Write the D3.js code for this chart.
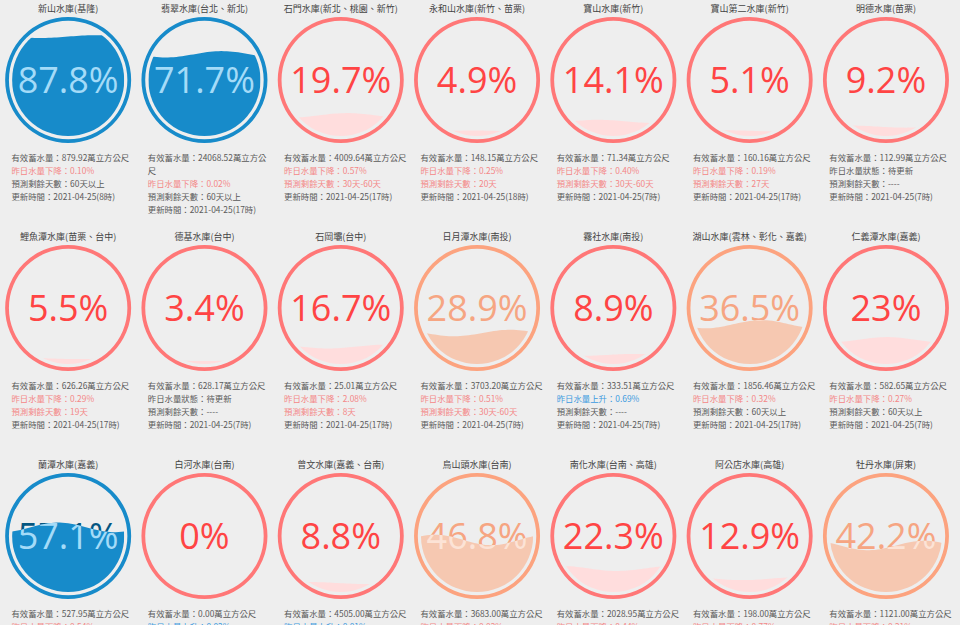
<!DOCTYPE html>
<html>
<head>
<meta charset="utf-8" />
<script src="https://d3js.org/d3.v7.min.js"></script>
<style>
  body { margin: 0; background: #eeeeee; }
  svg { display: block; }
  .title { font-family: "Noto Sans CJK TC", sans-serif; font-size: 9px; fill: #444; }
  .info { font-family: "Noto Sans CJK TC", sans-serif; font-size: 8.4px; }
  .pct { font-family: "Open Sans", sans-serif; }
</style>
</head>
<body>
<svg id="viz"></svg>
<script>
// reservoirs, row by row (7 per row)
var names = [
  "新山水庫(基隆)", "翡翠水庫(台北、新北)", "石門水庫(新北、桃園、新竹)", "永和山水庫(新竹、苗栗)",
  "寶山水庫(新竹)", "寶山第二水庫(新竹)", "明德水庫(苗栗)",
  "鯉魚潭水庫(苗栗、台中)", "德基水庫(台中)", "石岡壩(台中)", "日月潭水庫(南投)",
  "霧社水庫(南投)", "湖山水庫(雲林、彰化、嘉義)", "仁義潭水庫(嘉義)",
  "蘭潭水庫(嘉義)", "白河水庫(台南)", "曾文水庫(嘉義、台南)", "烏山頭水庫(台南)",
  "南化水庫(台南、高雄)", "阿公店水庫(高雄)", "牡丹水庫(屏東)"
];
var percents = [87.8, 71.7, 19.7, 4.9, 14.1, 5.1, 9.2,
                5.5, 3.4, 16.7, 28.9, 8.9, 36.5, 23,
                57.1, 0, 8.8, 46.8, 22.3, 12.9, 42.2];
var volumes = ["879.92", "24068.52", "4009.64", "148.15", "71.34", "160.16", "112.99",
               "626.26", "628.17", "25.01", "3703.20", "333.51", "1856.46", "582.65",
               "527.95", "0.00", "4505.00", "3683.00", "2028.95", "198.00", "1121.00"];
var changeDir = ["下降", "下降", "下降", "下降", "下降", "下降", "待更新",
                 "下降", "待更新", "下降", "下降", "上升", "下降", "下降",
                 "下降", "上升", "上升", "下降", "下降", "下降", "下降"];
var changeVal = ["0.10", "0.02", "0.57", "0.25", "0.40", "0.19", "",
                 "0.29", "", "2.08", "0.51", "0.69", "0.32", "0.27",
                 "0.54", "0.02", "0.01", "0.02", "0.44", "0.77", "0.21"];
var daysLeft = ["60天以上", "60天以上", "30天-60天", "20天", "30天-60天", "27天", "----",
                "19天", "----", "8天", "30天-60天", "----", "60天以上", "60天以上",
                "60天以上", "----", "----", "60天以上", "60天以上", "30天-60天", "60天以上"];
var updateHour = [8, 17, 17, 18, 7, 17, 7,
                  17, 7, 17, 7, 7, 17, 7,
                  7, 7, 7, 7, 7, 7, 7];
var updateDate = "2021-04-25";

var width = 960, height = 625;
var cols = 7, colW = 136.3, rowH = 228, top0 = 80;
var radius = 63;

var themes = {
  blue:   { circle: "#178BCA", wave: "#178BCA", text: "#045681", waveText: "#A4DBF8" },
  orange: { circle: "#FCA37F", wave: "#F6C8B1", text: "#F6A582", waveText: "#FCE3D6" },
  red:    { circle: "#FF7777", wave: "#FFDDDD", text: "#FF4444", waveText: "#FFAAAA" }
};
function theme(p) {
  if (p >= 50) return themes.blue;
  if (p >= 25) return themes.orange;
  return themes.red;
}

var svg = d3.select("#viz")
    .attr("width", width)
    .attr("height", height);
var defs = svg.append("defs");

function drawGauge(g, i, p) {
  var c = theme(p);
  var thick = radius * 0.06;
  var gap = radius * 0.05;
  var fillR = radius - thick - gap;
  var fontSize = 36;

  var waveHeightScale = d3.scaleLinear().domain([0, 50, 100]).range([0, 0.1, 0]);
  var amp = fillR * waveHeightScale(p);
  var rise = d3.scaleLinear().domain([0, 1]).range([fillR + amp, -fillR - amp]);
  var level = rise(p / 100);

  var ring = d3.arc().innerRadius(radius - thick).outerRadius(radius)
      .startAngle(0).endAngle(2 * Math.PI);
  g.append("path").attr("d", ring()).attr("fill", c.circle);

  g.append("text").attr("class", "pct")
      .attr("text-anchor", "middle")
      .attr("y", fontSize * 0.36)
      .attr("font-size", fontSize + "px")
      .attr("fill", c.text)
      .text(p + "%");

  var x = d3.scaleLinear().domain([0, 1]).range([-fillR, fillR]);
  var pts = d3.range(0, 1.0001, 0.025);
  var area = d3.area()
      .x(function(d) { return x(d); })
      .y0(function(d) { return level + amp * Math.sin(2 * Math.PI * d + 0.6 * i); })
      .y1(fillR + 2);
  defs.append("clipPath").attr("id", "clip" + i)
    .append("path").attr("d", area(pts));

  var inner = g.append("g").attr("clip-path", "url(#clip" + i + ")");
  inner.append("circle").attr("r", fillR).attr("fill", c.wave);
  inner.append("text").attr("class", "pct")
      .attr("text-anchor", "middle")
      .attr("y", fontSize * 0.36)
      .attr("font-size", fontSize + "px")
      .attr("fill", c.waveText)
      .text(p + "%");
}

// writes a line of text, breaking by character when too wide
function writeLine(g, str, x, y, color, maxW) {
  var t = g.append("text").attr("class", "info").attr("x", x).attr("y", y).attr("fill", color).text(str);
  if (t.node().getComputedTextLength() <= maxW) return 1;
  var cut = str.length;
  while (cut > 1) {
    cut--;
    t.text(str.slice(0, cut));
    if (t.node().getComputedTextLength() <= maxW) break;
  }
  return 1 + writeLine(g, str.slice(cut), x, y + 13, color, maxW);
}

var gray = "#5a5a5a", pink = "#F48787", blue = "#3D9BE0";

names.forEach(function(name, i) {
  var cx = (i % cols) * colW + colW / 2;
  var cy = top0 + Math.floor(i / cols) * rowH;

  svg.append("text").attr("class", "title")
      .attr("x", cx).attr("y", cy - 68.5)
      .attr("text-anchor", "middle")
      .text(name);

  var g = svg.append("g").attr("transform", "translate(" + cx + "," + cy + ")");
  drawGauge(g, i, percents[i]);

  var tx = cx - colW / 2 + 11.5;
  var y = cy + 81;
  var maxW = 123.7;
  var n = writeLine(svg, "有效蓄水量：" + volumes[i] + "萬立方公尺", tx, y, gray, maxW);
  y += 13 * n;
  if (changeDir[i] === "待更新") {
    writeLine(svg, "昨日水量狀態：待更新", tx, y, gray, maxW);
  } else {
    writeLine(svg, "昨日水量" + changeDir[i] + "：" + changeVal[i] + "%", tx, y,
        changeDir[i] === "上升" ? blue : pink, maxW);
  }
  y += 13;
  var urgent = daysLeft[i] !== "60天以上" && daysLeft[i] !== "----";
  writeLine(svg, "預測剩餘天數：" + daysLeft[i], tx, y, urgent ? pink : gray, maxW);
  y += 13;
  writeLine(svg, "更新時間：" + updateDate + "(" + updateHour[i] + "時)", tx, y, gray, maxW);
});
</script>
</body>
</html>
